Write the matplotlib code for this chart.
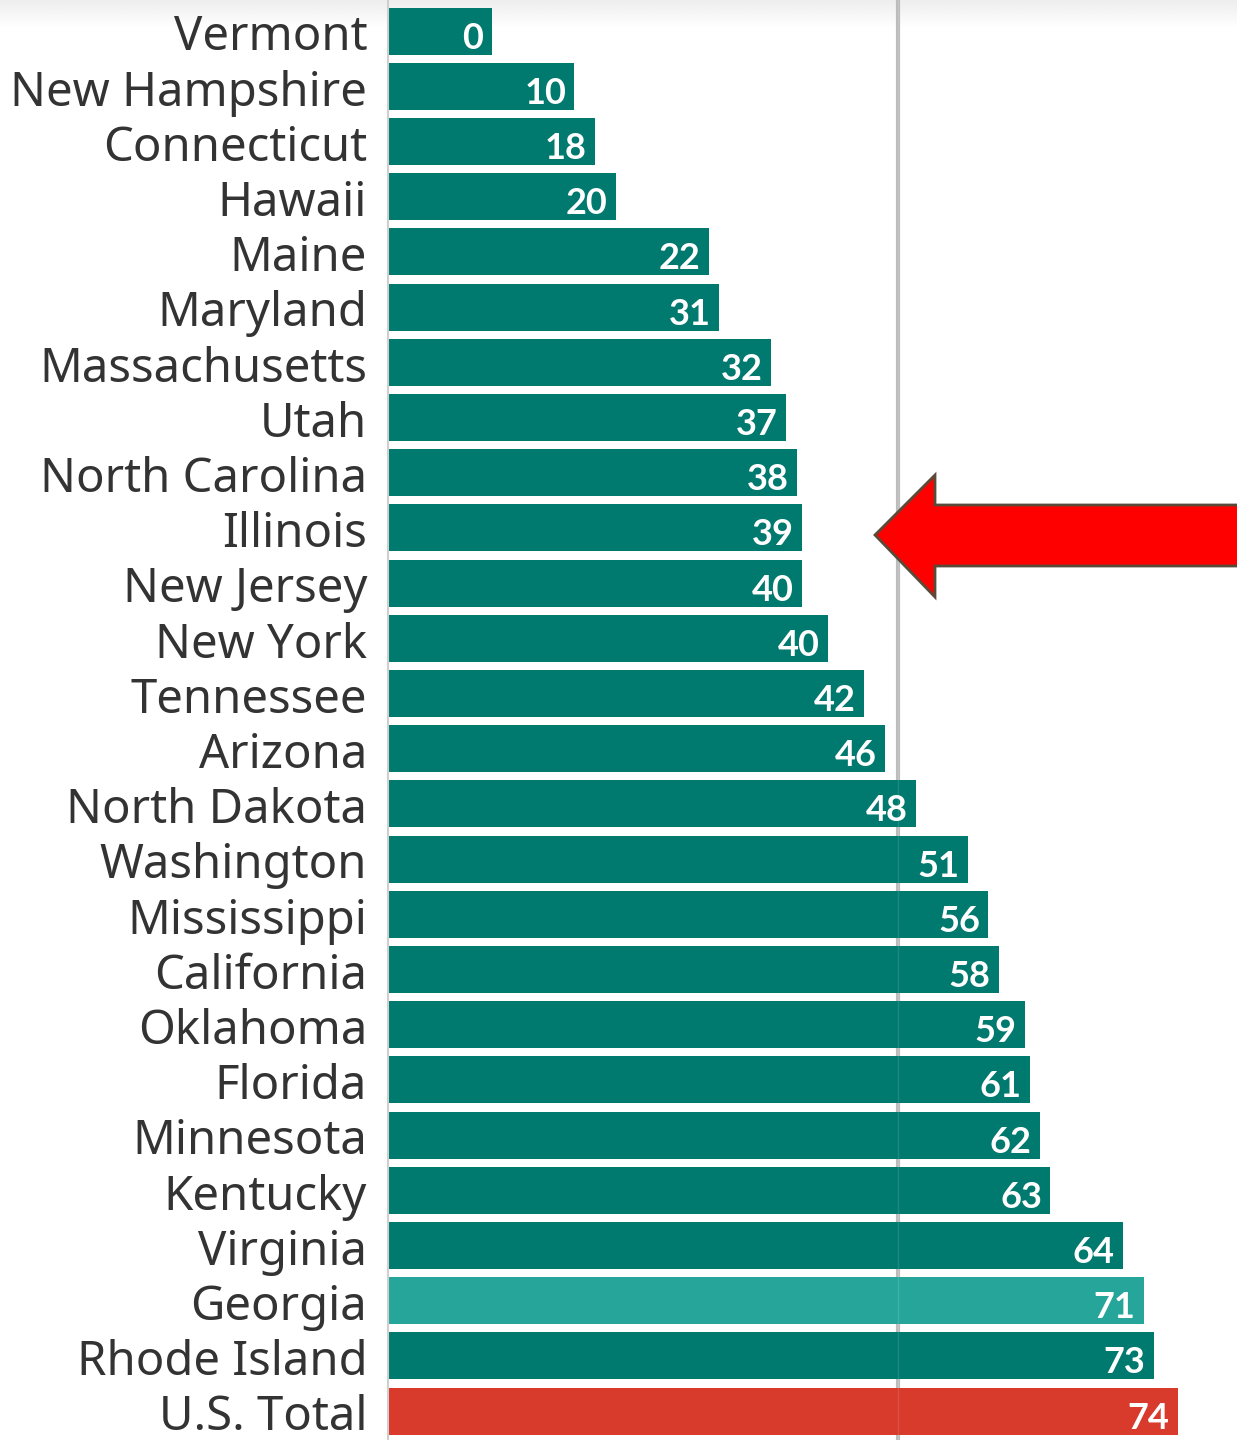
import matplotlib
matplotlib.use("Agg")
import matplotlib.pyplot as plt
import matplotlib.transforms as mtransforms
import numpy as np
from matplotlib.patches import Polygon

# Data
states = ["Vermont", "New Hampshire", "Connecticut", "Hawaii", "Maine", "Maryland",
          "Massachusetts", "Utah", "North Carolina", "Illinois", "New Jersey", "New York",
          "Tennessee", "Arizona", "North Dakota", "Washington", "Mississippi", "California",
          "Oklahoma", "Florida", "Minnesota", "Kentucky", "Virginia", "Georgia",
          "Rhode Island", "U.S. Total"]
# printed value on each bar
shown_values = [0, 10, 18, 20, 22, 31, 32, 37, 38, 39, 40, 40, 42, 46, 48, 51, 56, 58,
                59, 61, 62, 63, 64, 71, 73, 74]
# bar lengths as drawn in the picture (they run one step ahead of the printed numbers)
bar_lengths = [10, 18, 20, 22, 31, 32, 37, 38.5, 39.5, 40, 40, 42.5, 46, 48, 51, 56,
               58, 59, 61.5, 62, 63, 64, 71, 73, 74, 76.3]
ref_line = 49.3

dark_teal = "#00796f"
light_teal = "#26a69a"
red = "#d83a2c"
colors = [dark_teal] * len(states)
colors[states.index("Georgia")] = light_teal
colors[states.index("U.S. Total")] = red

W, H = 1237, 1440
fig = plt.figure(figsize=(W / 100, H / 100), dpi=100)
fig.patch.set_facecolor("white")

# faint grey band at the very top of the screenshot
band = fig.add_axes([0, 1 - 28 / H, 1, 28 / H])
band.imshow(np.linspace(0.93, 1.0, 50).reshape(-1, 1), cmap="gray", vmin=0, vmax=1,
            aspect="auto", extent=[0, 1, 0, 1])
band.axis("off")

left = 388 / W
ax = fig.add_axes([left, 0, 1 - left, 1])
ax.set_facecolor("none")

pitch = 55.2
y = np.arange(len(states))
ax.barh(y, bar_lengths, height=47 / pitch, color=colors, zorder=2)
ax.axvline(ref_line, color="#bcbcbc", lw=3, zorder=1)
ax.axvline(ref_line, color="#ffffff", lw=1, alpha=0.12, zorder=3)

px_per_unit = 10.35
ax.set_xlim(0, (W - 388) / px_per_unit)
ax.set_ylim((H - 31) / pitch, -31 / pitch)

for yi, length, val in zip(y, bar_lengths, shown_values):
    ax.text(length - 0.8, yi + 0.13, str(val), ha="right", va="center",
            color="white", fontsize=26, fontweight="bold", family="Lato", zorder=4)

ax.set_yticks(y)
ax.set_yticklabels(states, fontsize=34, color="#333333", family="Noto Sans")
ax.tick_params(axis="y", length=0, pad=15)
shift = mtransforms.ScaledTranslation(0, -5 / 72, fig.dpi_scale_trans)
for lab in ax.get_yticklabels():
    lab.set_verticalalignment("center")
    lab.set_transform(lab.get_transform() + shift)
ax.set_xticks([])
for side in ["top", "right", "bottom"]:
    ax.spines[side].set_visible(False)
ax.spines["left"].set_color("#cfcfcf")
ax.spines["left"].set_linewidth(1.5)

# red arrow pointing at the Illinois row
pts_px = [(875, 535), (935, 475), (935, 505), (1245, 505), (1245, 566), (935, 566), (935, 597)]
pts = [(px / W, 1 - py / H) for px, py in pts_px]
arrow = Polygon(pts, closed=True, facecolor="#ff0000", edgecolor="#5a4a3a", lw=2,
                transform=fig.transFigure, zorder=10)
fig.add_artist(arrow)

fig.savefig("out.png", dpi=100)
